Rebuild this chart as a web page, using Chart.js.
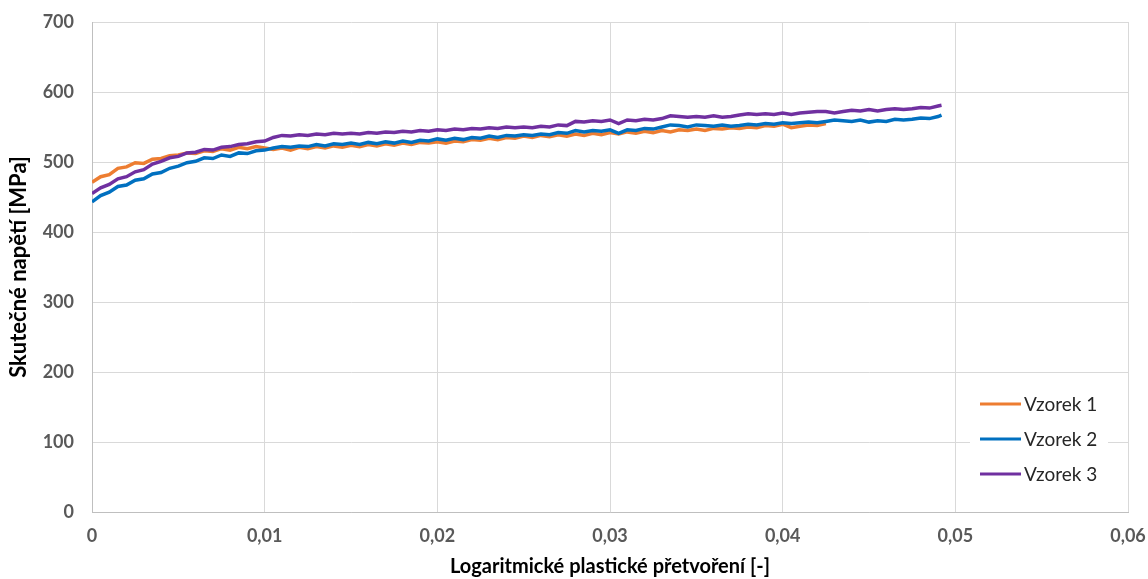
<!DOCTYPE html>
<html lang="cs">
<head>
  <meta charset="UTF-8">
  <title>Skutečné napětí vs. logaritmické plastické přetvoření</title>
  <script src="https://cdn.jsdelivr.net/npm/chart.js"></script>
  <style>
    html, body { margin: 0; padding: 0; background: #fff; }
    #wrap { width: 1148px; height: 579px; }
  </style>
</head>
<body>
  <div id="wrap"><canvas id="stressChart" width="1148" height="579"></canvas></div>

  <script>
    // logaritmicke plasticke pretvoreni [-]
    const strain = [
      0, 0.0005, 0.001, 0.0015, 0.002, 0.0025, 0.003, 0.0035, 0.004, 0.0045,
      0.005, 0.0055, 0.006, 0.0065, 0.007, 0.0075, 0.008, 0.0085, 0.009, 0.0095,
      0.01, 0.0105, 0.011, 0.0115, 0.012, 0.0125, 0.013, 0.0135, 0.014, 0.0145,
      0.015, 0.0155, 0.016, 0.0165, 0.017, 0.0175, 0.018, 0.0185, 0.019, 0.0195,
      0.02, 0.0205, 0.021, 0.0215, 0.022, 0.0225, 0.023, 0.0235, 0.024, 0.0245,
      0.025, 0.0255, 0.026, 0.0265, 0.027, 0.0275, 0.028, 0.0285, 0.029, 0.0295,
      0.03, 0.0305, 0.031, 0.0315, 0.032, 0.0325, 0.033, 0.0335, 0.034, 0.0345,
      0.035, 0.0355, 0.036, 0.0365, 0.037, 0.0375, 0.038, 0.0385, 0.039, 0.0395,
      0.04, 0.0405, 0.041, 0.0415, 0.042, 0.0425, 0.043, 0.0435, 0.044, 0.0445,
      0.045, 0.0455, 0.046, 0.0465, 0.047, 0.0475, 0.048, 0.0485, 0.049, 0.0492
    ];

    // skutecne napeti [MPa]
    const vzorek1 = [
      471, 479, 482, 491, 493, 499, 498, 504, 505, 509,
      510, 513, 512, 516, 515, 519, 517, 521, 519, 522,
      520, 518, 520, 517, 521, 519, 522, 520, 523, 521,
      524, 522, 525, 523, 526, 524, 527, 525, 528, 527,
      529, 527, 530, 529, 532, 531, 534, 532, 535, 534,
      537, 535, 538, 536, 539, 537, 540, 538, 541, 539,
      542, 540, 543, 541, 544, 542, 545, 543, 546, 545,
      547, 545, 548, 547, 549, 548, 550, 549, 552, 551,
      554, 549, 551, 553, 552, 555
    ];
    const vzorek2 = [
      443, 452, 457, 465, 467, 474, 476, 483, 485, 491,
      494, 499, 501, 506, 505, 510, 508, 513, 512, 516,
      517, 520, 522, 521, 523, 522, 525, 523, 526, 525,
      527, 525, 528, 526, 529, 527, 530, 528, 531, 530,
      533, 531, 534, 532, 535, 534, 537, 535, 538, 537,
      539, 538, 540, 539, 542, 541, 545, 543, 545, 544,
      546, 541, 546, 545, 548, 547, 550, 553, 552, 550,
      553, 552, 551, 553, 551, 552, 554, 553, 555, 554,
      556, 555, 556, 557, 556, 558, 560, 559, 558, 560,
      557, 559, 558, 561, 560, 561, 563, 562, 565, 567
    ];
    const vzorek3 = [
      455, 463, 468, 476, 479, 486, 489, 497, 501, 506,
      508, 513, 514, 518, 517, 521, 522, 525, 526, 529,
      530, 535, 538, 537, 539, 538, 540, 539, 541, 540,
      541, 540, 542, 541, 543, 542, 544, 543, 545, 544,
      546, 545, 547, 546, 548, 547, 549, 548, 550, 549,
      550, 549, 551, 550, 553, 552, 558, 557, 559, 558,
      560, 555, 560, 559, 561, 560, 562, 566, 565, 564,
      565, 564, 566, 564, 565, 567, 569, 568, 569, 568,
      570, 568, 570, 571, 572, 572, 570, 572, 574, 573,
      575, 573, 575, 576, 575, 576, 578, 577, 580, 581
    ];

    const seriesNames = ['Vzorek 1', 'Vzorek 2', 'Vzorek 3'];
    const seriesColors = ['#ED7D31', '#0070C0', '#7030A0'];

    const FONT = 'Lato, "Open Sans", sans-serif';

    function toPoints(values) {
      return values.map((v, i) => ({ x: strain[i], y: v }));
    }

    // legenda uvnitr grafu (jako v Excelu), s bilym podkladem
    const insideLegend = {
      id: 'insideLegend',
      afterDatasetsDraw(chart) {
        const ctx = chart.ctx;
        const area = chart.chartArea;
        const x0 = area.right - 148;
        const y0 = area.bottom - 108;
        ctx.save();
        ctx.fillStyle = '#ffffff';
        ctx.fillRect(x0 - 10, y0 - 16, 138, 104);
        ctx.font = '19px ' + FONT;
        ctx.textBaseline = 'middle';
        seriesNames.forEach((name, k) => {
          const y = y0 + k * 35;
          ctx.strokeStyle = seriesColors[k];
          ctx.lineWidth = 3;
          ctx.beginPath();
          ctx.moveTo(x0, y);
          ctx.lineTo(x0 + 41, y);
          ctx.stroke();
          ctx.fillStyle = '#262626';
          ctx.fillText(name, x0 + 44, y + 1);
        });
        ctx.restore();
      }
    };

    const ctx = document.getElementById('stressChart').getContext('2d');
    new Chart(ctx, {
      type: 'line',
      data: {
        datasets: [
          { label: seriesNames[0], data: toPoints(vzorek1), borderColor: seriesColors[0], order: 3 },
          { label: seriesNames[1], data: toPoints(vzorek2), borderColor: seriesColors[1], order: 2 },
          { label: seriesNames[2], data: toPoints(vzorek3), borderColor: seriesColors[2], order: 1 }
        ]
      },
      options: {
        responsive: false,
        animation: false,
        datasets: {
          line: { borderWidth: 3.5, pointRadius: 0, tension: 0, fill: false }
        },
        layout: { padding: { top: 22, right: 20, left: 0, bottom: 0 } },
        plugins: {
          legend: { display: false },
          tooltip: { enabled: false }
        },
        scales: {
          x: {
            type: 'linear',
            min: 0,
            max: 0.06,
            afterFit: (s) => {
              s.height = 67;
              s.paddingLeft = 0;
              s.paddingRight = 0;
            },
            ticks: {
              stepSize: 0.01,
              padding: 13,
              color: '#595959',
              font: { family: FONT, size: 18, weight: 'bold' },
              callback: (v) => v === 0 ? '0' : v.toFixed(2).replace('.', ',')
            },
            grid: { color: '#d9d9d9', drawTicks: false },
            border: { color: '#bfbfbf', width: 1 },
            title: {
              display: true,
              text: 'Logaritmické plastické přetvoření [-]',
              color: '#000',
              font: { family: FONT, size: 20, weight: 'bold' },
              padding: { top: 0, bottom: 0 }
            }
          },
          y: {
            min: 0,
            max: 700,
            afterFit: (s) => {
              s.width = 92;
              s.paddingTop = 0;
              s.paddingBottom = 0;
            },
            ticks: {
              stepSize: 100,
              padding: 18,
              color: '#595959',
              font: { family: FONT, size: 18, weight: 'bold' }
            },
            grid: { color: '#d9d9d9', drawTicks: false },
            border: { color: '#bfbfbf', width: 1 },
            title: {
              display: true,
              text: 'Skutečné napětí [MPa]',
              color: '#000',
              font: { family: FONT, size: 22, weight: 'bold' },
              padding: { top: 6, bottom: 0 }
            }
          }
        }
      },
      plugins: [insideLegend]
    });
  </script>
</body>
</html>
